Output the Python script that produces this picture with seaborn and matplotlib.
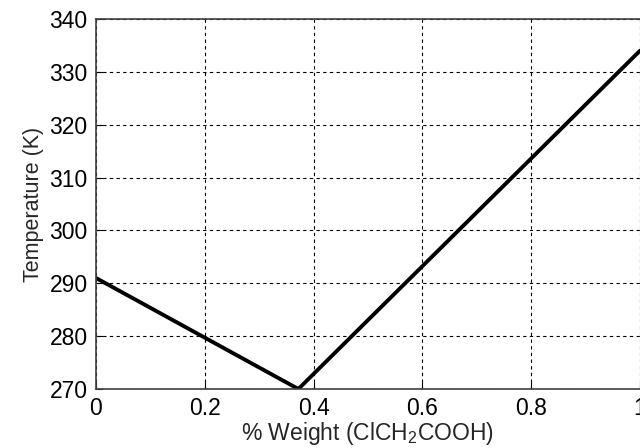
import numpy as np
import pandas as pd
import seaborn as sns
import matplotlib
matplotlib.use('Agg')
import matplotlib.pyplot as plt

# phase diagram points
weight = [0.0, 0.372, 1.0]
temperature = [291.0, 270.0, 334.0]

x_ticks = [0, 0.2, 0.4, 0.6, 0.8, 1]
x_tick_labels = ['0', '0.2', '0.4', '0.6', '0.8', '1']
y_ticks = [270, 280, 290, 300, 310, 320, 330, 340]

sns.set_style('white')
plt.rcParams['font.family'] = ['Liberation Sans', 'DejaVu Sans']
plt.rcParams['mathtext.fontset'] = 'custom'
plt.rcParams['mathtext.rm'] = 'Liberation Sans'
plt.rcParams['mathtext.it'] = 'Liberation Sans'

df = pd.DataFrame({'weight': weight, 'temperature': temperature})

fig = plt.figure(figsize=(6.4, 4.48), dpi=100)
ax = fig.add_axes([96 / 640, 1 - 389 / 448, 544 / 640, 370 / 448])

sns.lineplot(data=df, x='weight', y='temperature', color='black',
             linewidth=2.8, ax=ax, sort=False)

ax.set_xlim(0, 1)
ax.set_ylim(270, 340)
ax.set_xticks(x_ticks)
ax.set_xticklabels(x_tick_labels)
ax.set_yticks(y_ticks)
ax.grid(True, color='black', linestyle=(0, (3, 3)), linewidth=0.8)
ax.tick_params(direction='in', length=5, labelsize=16.5, colors='black',
               left=True, bottom=True, pad=6)
for side in ['left', 'top', 'bottom']:
    ax.spines[side].set_color('#404040')
    ax.spines[side].set_linewidth(1.2)
ax.spines['right'].set_visible(False)

ax.set_xlabel('% Weight (ClCH$_2$COOH)', fontsize=16.5, labelpad=0)
ax.set_ylabel('Temperature (K)', fontsize=15.5, labelpad=4)

plt.savefig('out.png', dpi=100)
plt.close()
